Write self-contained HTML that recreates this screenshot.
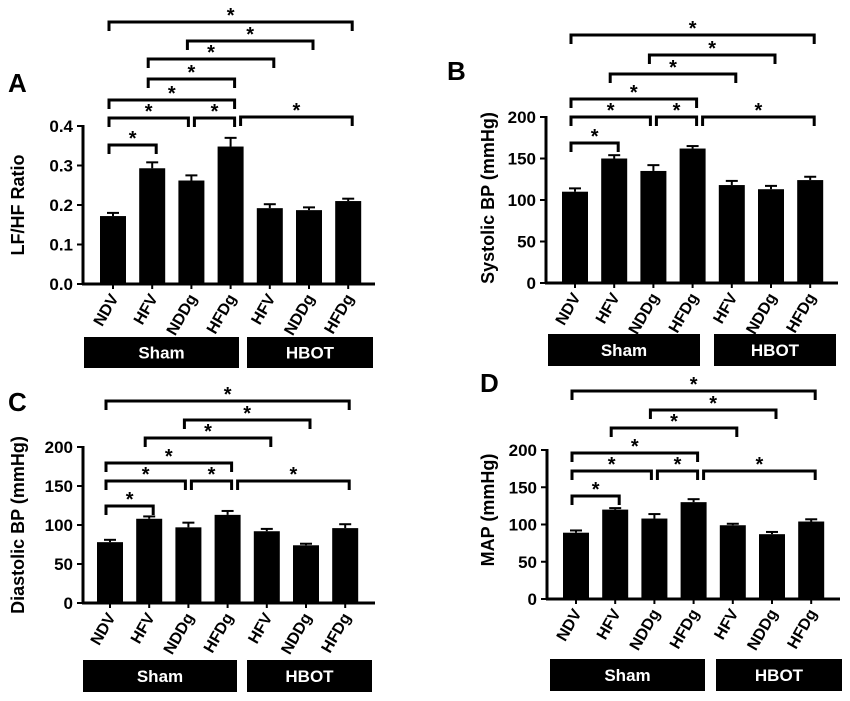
<!DOCTYPE html>
<html><head><meta charset="utf-8"><style>
html,body{margin:0;padding:0;background:#fff;}
svg{display:block;font-family:"Liberation Sans",Arial,sans-serif;font-weight:bold;}
</style></head><body>
<svg id="fig" width="850" height="701" viewBox="0 0 850 701"></svg>
<script>
const categories = ["NDV","HFV","NDDg","HFDg","HFV","NDDg","HFDg"];
const lfhfValues = [0.172,0.293,0.262,0.348,0.192,0.187,0.210];
const lfhfErrors = [0.008,0.015,0.013,0.022,0.010,0.007,0.006];
const lfhfTicks = ["0.0","0.1","0.2","0.3","0.4"];
const sbpValues = [110,150,135,162,118,113,124];
const sbpErrors = [4,4,7,3,5,4,4];
const dbpValues = [78,108,97,113,92,74,96];
const dbpErrors = [3,3,6,5,3,2,5];
const mapValues = [89,120,108,130,99,87,104];
const mapErrors = [3,2,6,4,2,3,3];
const bpTicks = ["0","50","100","150","200"];
const bracketPairs = [[0,1],[0,2],[2,3],[3,6],[0,3],[1,4],[2,5],[0,6]];
const bracketPairsA = [[0,1],[0,2],[2,3],[3,6],[0,3],[1,3],[1,4],[2,5],[0,6]];

const NS="http://www.w3.org/2000/svg";
const svg=document.getElementById('fig');
function el(tag,attrs,parent){const e=document.createElementNS(NS,tag);for(const k in attrs)e.setAttribute(k,attrs[k]);(parent||svg).appendChild(e);return e;}

const panels=[
 {id:"a",letter:"A",lx:8,ly:92,ax:83,axR:375,y0:284,yTop:126,max:0.4,ticks:lfhfTicks,vals:lfhfValues,errs:lfhfErrors,x0:113,step:39.2,ylab:"LF/HF Ratio",ylx:24,yly:205,
  bys:[145,118,118,117,100,79,59,41,22],
  sham:[84,337,155,31],hbot:[247,337,126,31]},
 {id:"b",letter:"B",lx:447,ly:80,ax:546,axR:838,y0:283,yTop:117,max:200,ticks:bpTicks,vals:sbpValues,errs:sbpErrors,x0:575,step:39.2,ylab:"Systolic BP (mmHg)",ylx:494,yly:198,
  bys:[143,117,117,117,99,74,55,35],
  sham:[548,334,152,32],hbot:[714,334,122,32]},
 {id:"c",letter:"C",lx:8,ly:411,ax:83,axR:375,y0:603,yTop:447,max:200,ticks:bpTicks,vals:dbpValues,errs:dbpErrors,x0:110,step:39.2,ylab:"Diastolic BP (mmHg)",ylx:24,yly:525,
  bys:[506,481,481,481,463,438,420,401],
  sham:[83,660,154,32],hbot:[247,660,125,32]},
 {id:"d",letter:"D",lx:480,ly:392,ax:547,axR:840,y0:599,yTop:450,max:200,ticks:bpTicks,vals:mapValues,errs:mapErrors,x0:576,step:39.2,ylab:"MAP (mmHg)",ylx:494,yly:510,
  bys:[496,471,471,471,453,428,410,391],
  sham:[550,659,155,32],hbot:[716,659,126,32]}
];

panels.forEach(p=>{
 const g=el('g',{});
 
 
 const xs=i=>p.x0+i*p.step;
 const ys=v=>p.y0-(v/p.max)*(p.y0-p.yTop);
 const L=el('text',{x:p.lx,y:p.ly,'font-size':26},g);L.textContent=p.letter;
 
 const yl=el('text',{x:0,y:0,'font-size':18,'text-anchor':'middle',transform:`translate(${p.ylx},${p.yly}) rotate(-90)`},g);yl.textContent=p.ylab;
 
 p.vals.forEach((v,i)=>{
  const x=xs(i), top=ys(v), et=ys(v+p.errs[i]);
  el('line',{x1:x,x2:x,y1:top,y2:et,stroke:'#000','stroke-width':2},g);
  el('line',{x1:x-6,x2:x+6,y1:et,y2:et,stroke:'#000','stroke-width':2},g);
  const b=el('rect',{x:x-13,y:top,width:26,height:p.y0-top,fill:'#000'},g);
  
  el('line',{x1:x,x2:x,y1:p.y0,y2:p.y0+5,stroke:'#000','stroke-width':2},g);
  const t=el('text',{x:0,y:0,'font-size':16,'text-anchor':'end',transform:`translate(${x+6},${p.y0+14}) rotate(-60)`},g);t.textContent=categories[i];
  
 });
 el('line',{x1:p.ax,x2:p.ax,y1:p.yTop-1,y2:p.y0+1,stroke:'#000','stroke-width':3},g);
 el('line',{x1:p.ax-1,x2:p.axR,y1:p.y0,y2:p.y0,stroke:'#000','stroke-width':3},g);
 p.ticks.forEach((tk,k)=>{
  const v=parseFloat(tk), y=ys(v);
  el('line',{x1:p.ax-6,x2:p.ax,y1:y,y2:y,stroke:'#000','stroke-width':2},g);
  const t=el('text',{x:p.ax-10,y:y+6,'font-size':17,'text-anchor':'end'},g);t.textContent=tk;
  
 });
 const pairs=p.id==='a'?bracketPairsA:bracketPairs;
 pairs.forEach((pr,k)=>{
  const by=p.bys[k];
  let x1=xs(pr[0])-4, x2=xs(pr[1])+4;
  if(pr[0]===2&&pr[1]===3){x1=xs(2)+3;}
  if(pr[0]===3&&pr[1]===6){x1=xs(3)+10;}
  if(pr[0]===0&&pr[1]===2){x2=xs(2)-3;}
  const br=el('path',{d:`M${x1},${by+9} V${by} H${x2} V${by+9}`,fill:'none',stroke:'#000','stroke-width':3},g);
  
  const s=el('text',{x:(x1+x2)/2,y:by,'font-size':20,'text-anchor':'middle'},g);s.textContent='*';
  
 });
 [['Sham',p.sham],['HBOT',p.hbot]].forEach(([n,r])=>{
  const bx=el('rect',{x:r[0],y:r[1],width:r[2],height:r[3],fill:'#000'},g);
  
  const t=el('text',{x:r[0]+r[2]/2,y:r[1]+r[3]/2+6,'font-size':17,fill:'#fff','text-anchor':'middle'},g);t.textContent=n;
  
 });
});
</script>
</body></html>
